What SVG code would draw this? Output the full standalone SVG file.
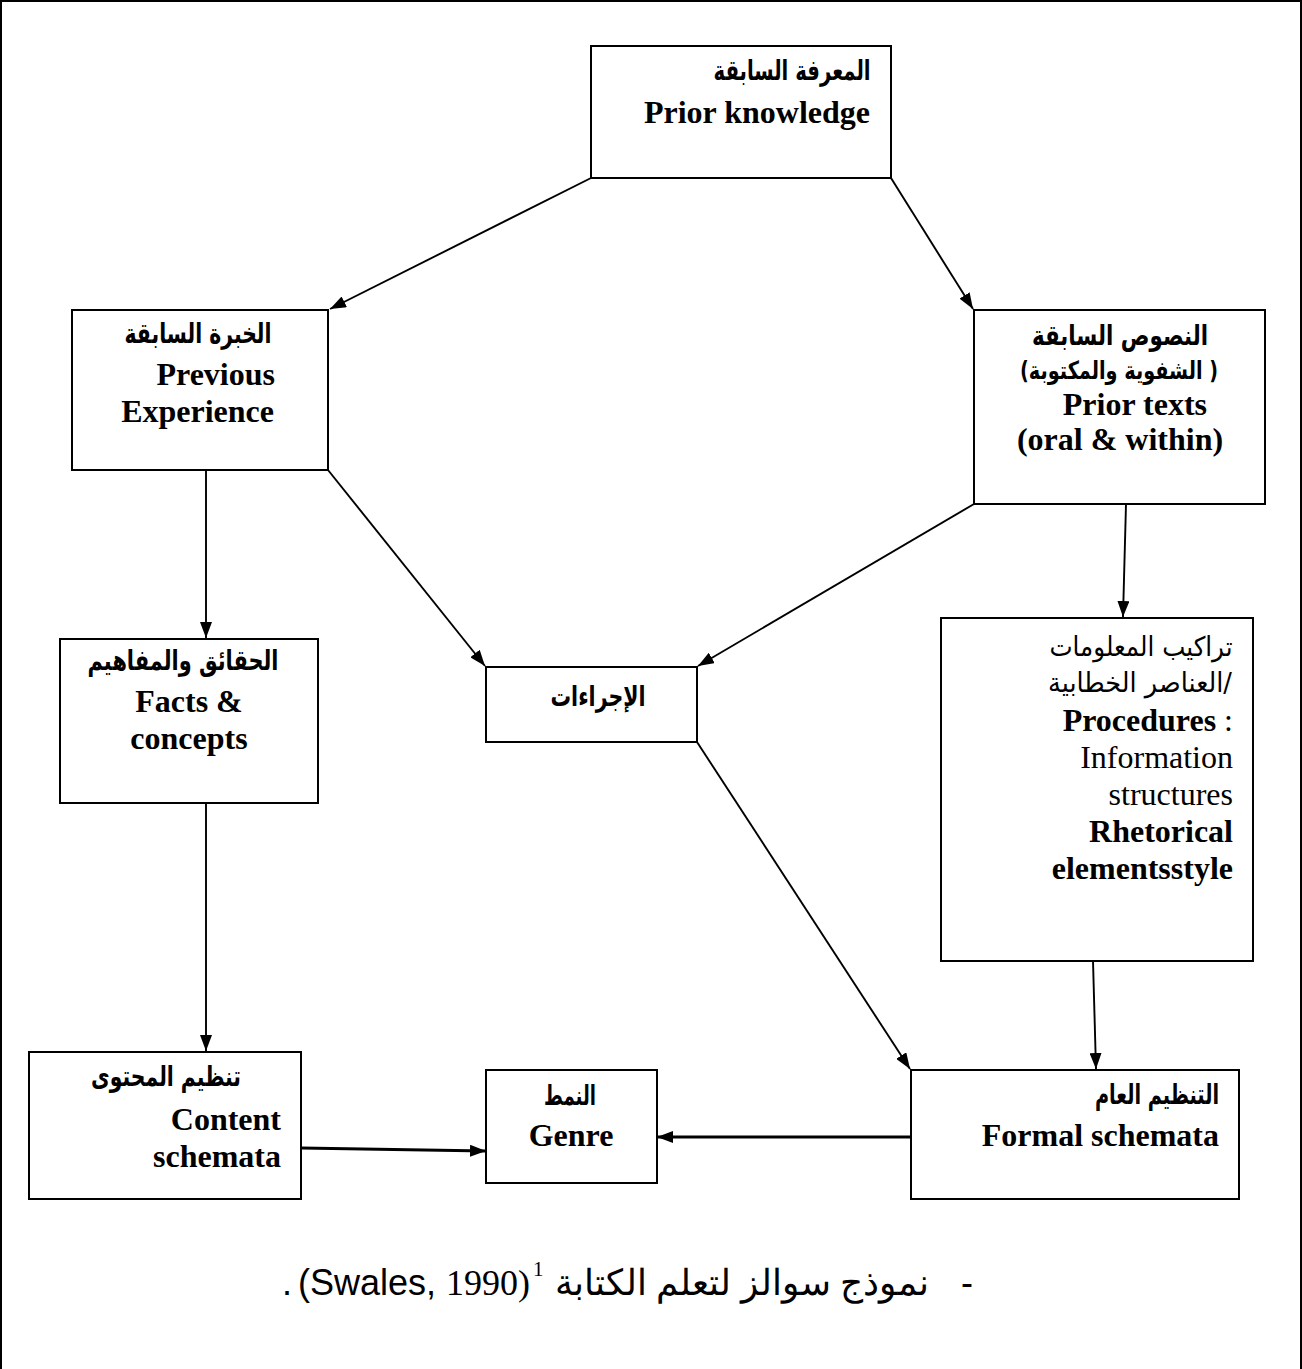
<svg xmlns="http://www.w3.org/2000/svg" width="1302" height="1369" viewBox="0 0 1302 1369">
  <style>
    .box { fill: #ffffff; stroke: #000000; stroke-width: 2; }
    .en { font-family: "Liberation Serif", "Times New Roman", serif; font-size: 32px; fill: #000; }
    .b { font-weight: bold; }
    .ar { font-family: "DejaVu Sans", "Noto Sans", sans-serif; font-size: 27px; fill: #000; }
    .arb { font-family: "DejaVu Sans", "Noto Sans", sans-serif; font-size: 28px; font-weight: bold; fill: #000; }
    .cap { font-family: "Liberation Sans", Arial, sans-serif; font-size: 36px; fill: #000; }
    .capserif { font-family: "Liberation Serif", "Times New Roman", serif; font-size: 36px; fill: #000; }
    .link { fill: none; stroke: #000; stroke-width: 1.9; marker-end: url(#head); }
    .link.heavy { stroke-width: 2.8; }
  </style>
  <defs>
    <marker id="head" markerUnits="userSpaceOnUse" markerWidth="16" markerHeight="12" refX="16" refY="6" orient="auto">
      <path d="M0,0 L16,6 L0,12 Z" fill="#000"/>
    </marker>
  </defs>

  <!-- page frame -->
  <rect x="1" y="1" width="1300" height="1380" fill="#fff" stroke="#000" stroke-width="2"/>

  <!-- connectors -->
  <g id="connectors">
    <line class="link" x1="591" y1="178" x2="330" y2="309"/>
    <line class="link" x1="891" y1="178" x2="973" y2="309"/>
    <line class="link" x1="328" y1="470" x2="485" y2="666"/>
    <line class="link" x1="974" y1="504" x2="698" y2="666"/>
    <line class="link" x1="206" y1="470" x2="206" y2="638"/>
    <line class="link" x1="1126" y1="504" x2="1123" y2="617"/>
    <line class="link" x1="206" y1="803" x2="206" y2="1051"/>
    <line class="link" x1="697" y1="742" x2="910" y2="1069"/>
    <line class="link" x1="1093" y1="961" x2="1096" y2="1069"/>
    <line class="link heavy" x1="911" y1="1137" x2="657" y2="1137"/>
    <line class="link heavy" x1="301" y1="1148" x2="486" y2="1151"/>
  </g>

  <!-- Prior knowledge -->
  <g id="prior-knowledge">
    <rect class="box" x="591" y="46" width="300" height="132"/>
    <text class="arb" x="792" y="80" text-anchor="middle" textLength="157" lengthAdjust="spacingAndGlyphs">المعرفة السابقة</text>
    <text class="en b" x="870" y="123" text-anchor="end">Prior knowledge</text>
  </g>

  <!-- Previous experience -->
  <g id="previous-experience">
    <rect class="box" x="72" y="310" width="256" height="160"/>
    <text class="arb" x="198" y="343" text-anchor="middle" textLength="147" lengthAdjust="spacingAndGlyphs">الخبرة السابقة</text>
    <text class="en b" x="275" y="385" text-anchor="end">Previous</text>
    <text class="en b" x="274" y="422" text-anchor="end">Experience</text>
  </g>

  <!-- Prior texts -->
  <g id="prior-texts">
    <rect class="box" x="974" y="310" width="291" height="194"/>
    <text class="arb" x="1120" y="345" text-anchor="middle" textLength="176" lengthAdjust="spacingAndGlyphs">النصوص السابقة</text>
    <text class="arb" x="1119" y="379" text-anchor="middle" style="font-size:25px" textLength="198" lengthAdjust="spacingAndGlyphs">(الشفوية والمكتوبة )</text>
    <text class="en b" x="1207" y="415" text-anchor="end">Prior texts</text>
    <text class="en b" x="1120" y="450" text-anchor="middle">(oral &amp; within)</text>
  </g>

  <!-- Facts & concepts -->
  <g id="facts-concepts">
    <rect class="box" x="60" y="639" width="258" height="164"/>
    <text class="arb" x="183" y="670" text-anchor="middle" textLength="191" lengthAdjust="spacingAndGlyphs">الحقائق والمفاهيم</text>
    <text class="en b" x="189" y="712" text-anchor="middle">Facts &amp;</text>
    <text class="en b" x="189" y="749" text-anchor="middle">concepts</text>
  </g>

  <!-- Procedures (Arabic label) -->
  <g id="procedures-ar">
    <rect class="box" x="486" y="667" width="211" height="75"/>
    <text class="arb" x="598" y="706" text-anchor="middle" textLength="95" lengthAdjust="spacingAndGlyphs">الإجراءات</text>
  </g>

  <!-- Procedures: information structures / rhetorical elements -->
  <g id="procedures">
    <rect class="box" x="941" y="618" width="312" height="343"/>
    <text class="ar" x="1141" y="656" text-anchor="middle" textLength="183" lengthAdjust="spacingAndGlyphs">تراكيب المعلومات</text>
    <text class="ar" x="1140" y="692" text-anchor="middle" direction="rtl" textLength="184" lengthAdjust="spacingAndGlyphs">/العناصر الخطابية</text>
    <text class="en" x="1233" y="731" text-anchor="end"><tspan class="b">Procedures</tspan> :</text>
    <text class="en" x="1233" y="768" text-anchor="end">Information</text>
    <text class="en" x="1233" y="805" text-anchor="end">structures</text>
    <text class="en b" x="1233" y="842" text-anchor="end">Rhetorical</text>
    <text class="en b" x="1233" y="879" text-anchor="end">elementsstyle</text>
  </g>

  <!-- Content schemata -->
  <g id="content-schemata">
    <rect class="box" x="29" y="1052" width="272" height="147"/>
    <text class="arb" x="166" y="1086" text-anchor="middle" textLength="150" lengthAdjust="spacingAndGlyphs">تنظيم المحتوى</text>
    <text class="en b" x="281" y="1130" text-anchor="end">Content</text>
    <text class="en b" x="281" y="1167" text-anchor="end">schemata</text>
  </g>

  <!-- Genre -->
  <g id="genre">
    <rect class="box" x="486" y="1070" width="171" height="113"/>
    <text class="arb" x="570" y="1105" text-anchor="middle" textLength="52" lengthAdjust="spacingAndGlyphs">النمط</text>
    <text class="en b" x="571" y="1146" text-anchor="middle">Genre</text>
  </g>

  <!-- Formal schemata -->
  <g id="formal-schemata">
    <rect class="box" x="911" y="1070" width="328" height="129"/>
    <text class="arb" x="1157" y="1104" text-anchor="middle" textLength="124" lengthAdjust="spacingAndGlyphs">التنظيم العام</text>
    <text class="en b" x="1219" y="1146" text-anchor="end">Formal schemata</text>
  </g>

  <!-- caption -->
  <g id="caption">
    <text class="cap" x="287" y="1295" text-anchor="middle">.</text>
    <text class="cap" x="298" y="1295">(Swales, <tspan class="capserif">1990)</tspan></text>
    <text class="capserif" x="533" y="1276" style="font-size:21px">1</text>
    <text class="cap" x="742" y="1295" text-anchor="middle" textLength="374" lengthAdjust="spacingAndGlyphs">نموذج سوالز لتعلم الكتابة</text>
    <text class="cap" x="967" y="1295" text-anchor="middle">-</text>
  </g>
</svg>
